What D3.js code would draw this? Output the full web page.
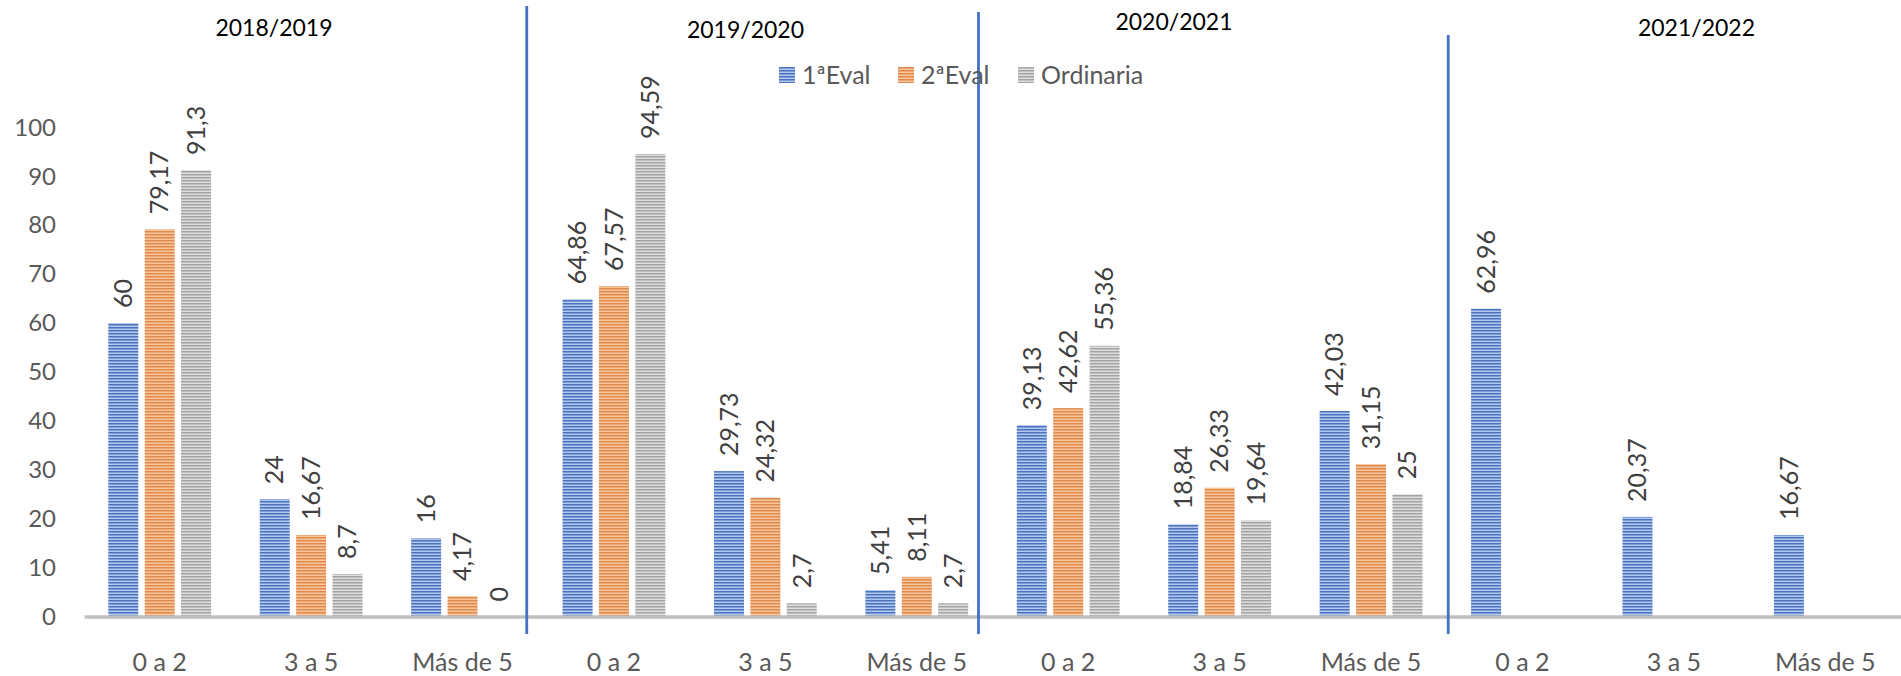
<!DOCTYPE html>
<meta charset="UTF-8">
<style>
  body { margin: 0; background: #fff; }
  svg { display: block; font-family: Lato, "Open Sans", sans-serif; }
</style>
<svg width="1901" height="676"></svg>
<script src="https://cdn.jsdelivr.net/npm/d3@7"></script>
<script>

// data
var years = ["2018/2019", "2019/2020", "2020/2021", "2021/2022"];
var categories = ["0 a 2", "3 a 5", "Más de 5"];
var series = ["1ªEval", "2ªEval", "Ordinaria"];
var eval1 = [60, 24, 16, 64.86, 29.73, 5.41, 39.13, 18.84, 42.03, 62.96, 20.37, 16.67];
var eval2 = [79.17, 16.67, 4.17, 67.57, 24.32, 8.11, 42.62, 26.33, 31.15, null, null, null];
var ordinaria = [91.3, 8.7, 0, 94.59, 2.7, 2.7, 55.36, 19.64, 25, null, null, null];
var yTicks = [0, 10, 20, 30, 40, 50, 60, 70, 80, 90, 100];

var values = [eval1, eval2, ordinaria];
var keys = [];
years.forEach(function(yr) { categories.forEach(function(c) { keys.push(yr + "|" + c); }); });
var rows = keys.map(function(k, i) {
  return { key: k, cat: k.split("|")[1], vals: series.map(function(s, j) { return { s: s, v: values[j][i] }; }) };
});

var svg = d3.select("svg"),
    width = +svg.attr("width"),
    height = +svg.attr("height");

var x0 = d3.scaleBand().domain(keys).range([84, width]);
var x1 = d3.scaleBand().domain(series).range([0, x0.bandwidth()]).paddingInner(0.176).paddingOuter(0.668);
var y = d3.scaleLinear().domain([0, 100]).range([616.5, 127.5]);

// striped fills like the excel pattern
var fills = {
  "1ªEval":    ["#4a73c0", "#b3c8ec"],
  "2ªEval":    ["#e0894d", "#f8c59b"],
  "Ordinaria": ["#a3a3a3", "#dedede"]
};
var defs = svg.append("defs");
series.forEach(function(s, i) {
  var p = defs.append("pattern").attr("id", "pat" + i)
      .attr("patternUnits", "userSpaceOnUse").attr("width", 6).attr("height", 3);
  p.append("rect").attr("width", 6).attr("height", 3).attr("fill", fills[s][1]);
  p.append("rect").attr("width", 6).attr("height", 1.5).attr("fill", fills[s][0]);
});
var patOf = function(s) { return "url(#pat" + series.indexOf(s) + ")"; };
var fmt = function(v) { return String(v).replace(".", ","); };

// bars
var groups = svg.append("g").selectAll("g").data(rows).join("g")
    .attr("transform", function(d) { return "translate(" + x0(d.key) + ",0)"; });

groups.selectAll("rect").data(function(d) { return d.vals.filter(function(e) { return e.v !== null; }); })
  .join("rect")
    .attr("x", function(d) { return x1(d.s); })
    .attr("width", x1.bandwidth())
    .attr("y", function(d) { return y(d.v); })
    .attr("height", function(d) { return y(0) - y(d.v); })
    .attr("fill", function(d) { return patOf(d.s); });

groups.selectAll("text").data(function(d) { return d.vals.filter(function(e) { return e.v !== null; }); })
  .join("text")
    .attr("transform", function(d) { return "translate(" + (x1(d.s) + x1.bandwidth() / 2) + "," + (y(d.v) - 15) + ") rotate(-90)"; })
    .attr("dy", "0.35em")
    .attr("fill", "#404040")
    .style("font-size", "25px")
    .text(function(d) { return fmt(d.v); });

// category axis (its domain is the grey baseline)
var xAxis = svg.append("g")
    .attr("transform", "translate(0," + y(0) + ")")
    .call(d3.axisBottom(x0).tickSize(0).tickSizeOuter(0).tickFormat(function(k) { return k.split("|")[1]; }));
xAxis.select(".domain").attr("stroke", "#bfbfbf").attr("stroke-width", 3.5);
xAxis.selectAll("text").attr("y", 45.5).attr("dy", "0.35em")
    .attr("fill", "#595959").style("font-size", "25px").style("font-family", "Lato, sans-serif");

// value axis
var yAxis = svg.append("g")
    .attr("transform", "translate(56,0)")
    .call(d3.axisLeft(y).tickValues(yTicks).tickSize(0).tickPadding(0));
yAxis.select(".domain").remove();
yAxis.selectAll("text").attr("fill", "#595959").style("font-size", "24px").style("font-family", "Lato, sans-serif");

// separators between school years
var sepAfter = [3, 6, 9],
    sepShift = [-11.5, -14, 1.5],
    sepTop = [6, 12, 35];
svg.append("g").selectAll("line").data(sepAfter).join("line")
    .attr("x1", function(d, i) { return x0(keys[d]) + sepShift[i]; })
    .attr("x2", function(d, i) { return x0(keys[d]) + sepShift[i]; })
    .attr("y1", function(d, i) { return sepTop[i]; })
    .attr("y2", 634)
    .attr("stroke", "#4472c4").attr("stroke-width", 2.8);

// school year titles
var yearX = [274, 745.5, 1174, 1696.5],
    yearY = [27.5, 30, 22, 28];
svg.append("g").selectAll("text").data(years).join("text")
    .attr("x", function(d, i) { return yearX[i]; })
    .attr("y", function(d, i) { return yearY[i]; })
    .attr("dy", "0.35em")
    .attr("text-anchor", "middle")
    .attr("fill", "#000")
    .style("font-size", "23px")
    .text(function(d) { return d; });

// legend
var legendX = [779, 898, 1018];
var legend = svg.append("g").selectAll("g").data(series).join("g")
    .attr("transform", function(d, i) { return "translate(" + legendX[i] + ",67)"; });
legend.append("rect").attr("width", 16).attr("height", 16).attr("fill", function(d) { return patOf(d); });
legend.append("text").attr("x", 23).attr("y", 8).attr("dy", "0.35em")
    .attr("fill", "#595959").style("font-size", "25px")
    .text(function(d) { return d; });

</script>
